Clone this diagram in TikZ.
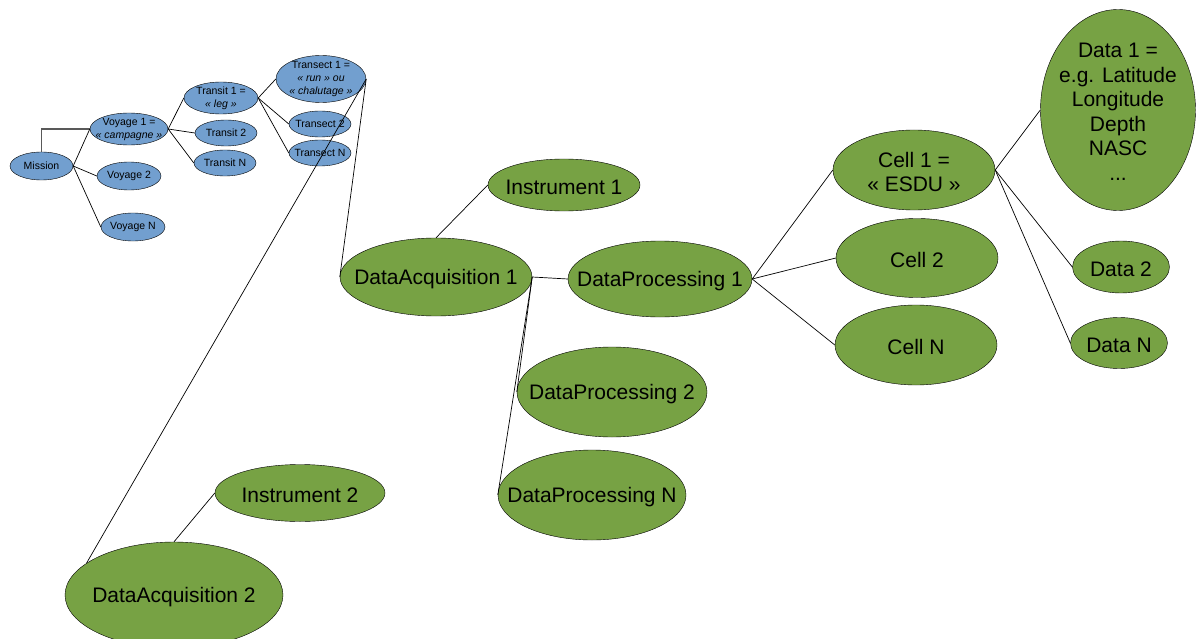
\documentclass[tikz,border=0pt]{standalone}
\usepackage{fontspec}
\setmainfont{Liberation Sans}
\usetikzlibrary{shapes.geometric}
\definecolor{voyblue}{HTML}{729FCF}
\definecolor{acqgreen}{HTML}{77A244}
\begin{document}
\begin{tikzpicture}[x=1pt,y=-1pt,
    smalltxt/.style={align=center, inner sep=0pt, font=\fontsize{10.5}{13}\selectfont},
    bigtxt/.style={align=center, inner sep=0pt, yshift=-2pt, font=\fontsize{21}{24.5}\selectfont},
    small/.style={ellipse, draw=black, fill=voyblue, inner sep=0pt, label={[smalltxt]center:{#1}}},
    big/.style={ellipse, draw=black, fill=acqgreen, inner sep=0pt, label={[bigtxt]center:{#1}}},
    link/.style={black, line width=0.7pt}]
    \useasboundingbox (0,0) rectangle (1196,639);
    % mission / voyage / transit / transect
    \node [small={Mission}, minimum width=63pt, minimum height=28pt] (mission) at (41.5,166) {};
    \node [small={Voyage 1 =\\\textit{« campagne »}}, minimum width=78pt, minimum height=32pt] (voy1) at (129,129) {};
    \node [small={Voyage 2}, minimum width=64pt, minimum height=28pt] (voy2) at (129,176) {};
    \node [small={Voyage N}, minimum width=64pt, minimum height=28pt] (voyN) at (133,227) {};
    \node [small={Transit 1 =\\\textit{« leg »}}, minimum width=74pt, minimum height=32pt] (tra1) at (221,98) {};
    \node [small={Transit 2}, minimum width=62pt, minimum height=26pt] (tra2) at (226,133) {};
    \node [small={Transit N}, minimum width=62pt, minimum height=26pt] (traN) at (225,163) {};
    \node [small={Transect 1 =\\\textit{« run » ou}\\\textit{« chalutage »}}, minimum width=90pt, minimum height=47pt] (tsc1) at (321,79) {};
    \node [small={Transect 2}, minimum width=62pt, minimum height=26pt] (tsc2) at (320,124) {};
    \node [small={Transect N}, minimum width=62pt, minimum height=26pt] (tscN) at (320,153) {};
    % acquisition / processing / cells / data
    \node [big={Instrument 1}, minimum width=152pt, minimum height=52pt] (ins1) at (564,185) {};
    \node [big={DataAcquisition 1}, minimum width=192pt, minimum height=78pt] (acq1) at (436,277) {};
    \node [big={DataProcessing 1}, minimum width=184pt, minimum height=76pt] (proc1) at (660,279) {};
    \node [big={DataProcessing 2}, minimum width=190pt, minimum height=90pt] (proc2) at (612,392) {};
    \node [big={DataProcessing N}, minimum width=188pt, minimum height=90pt] (procN) at (592,495) {};
    \node [big={Cell 1 =\\« ESDU »}, minimum width=162pt, minimum height=80pt] (cell1) at (914,170) {};
    \node [big={Cell 2}, minimum width=162pt, minimum height=79pt] (cell2) at (917,258) {};
    \node [big={Cell N}, minimum width=162pt, minimum height=80pt] (cellN) at (916,345) {};
    \node [big={Data 1 =\\e.g. Latitude\\Longitude\\Depth\\NASC\\...}, minimum width=155pt, minimum height=201pt] (data1) at (1118,110) {};
    \node [big={Data 2}, minimum width=97pt, minimum height=52pt] (data2) at (1121,267) {};
    \node [big={Data N}, minimum width=97pt, minimum height=51pt] (dataN) at (1119,343) {};
    \node [big={Instrument 2}, minimum width=170pt, minimum height=57pt] (ins2) at (300,493) {};
    \node [big={DataAcquisition 2}, minimum width=218pt, minimum height=106pt] (acq2) at (174,595) {};
    % links
    \draw [gray!70!black, line width=1.3pt] (mission.north) |- (voy1.west);
    \foreach \t in {voy1,voy2,voyN} \draw [link] (mission.east) -- (\t.west);
    \foreach \t in {tra1,tra2,traN} \draw [link] (voy1.east) -- (\t.west);
    \foreach \t in {tsc1,tsc2,tscN} \draw [link] (tra1.east) -- (\t.west);
    \draw [link] (tsc1.east) -- (acq1.west);
    \draw [link] (tsc1.east) -- (acq2.160);
    \draw [link] (acq1.north) -- (ins1.west);
    \draw [link] (acq2.north) -- (ins2.west);
    \foreach \t in {proc1,proc2,procN} \draw [link] (acq1.east) -- (\t.west);
    \foreach \t in {cell1,cell2,cellN} \draw [link] (proc1.east) -- (\t.west);
    \foreach \t in {data1,data2,dataN} \draw [link] (cell1.east) -- (\t.west);
\end{tikzpicture}
\end{document}
